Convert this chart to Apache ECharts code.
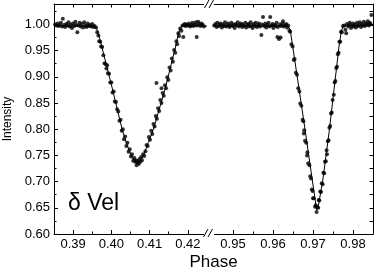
<!DOCTYPE html>
<html><head><meta charset="utf-8">
<script src="https://cdn.jsdelivr.net/npm/echarts@6/dist/echarts.min.js"></script>
<style>html,body{margin:0;padding:0;background:#fff}#c{width:379px;height:273px}</style>
</head><body><div id="c"></div><script>
// ---- data ----
const leftMajorTicks = [0.39, 0.40, 0.41, 0.42];
const leftMinorTicks = [0.395, 0.405, 0.415];
const rightMajorTicks = [0.95, 0.96, 0.97, 0.98];
const rightMinorTicks = [0.955, 0.965, 0.975];
const yMajorTicks = [0.60, 0.65, 0.70, 0.75, 0.80, 0.85, 0.90, 0.95, 1.00];
const yMinorTicks = [0.625, 0.675, 0.725, 0.775, 0.825, 0.875, 0.925, 0.975, 1.025];

const leftModel = [
  [0.3850,0.997],[0.3955,0.997],[0.3962,0.991],[0.3970,0.972],[0.3980,0.943],[0.4000,0.885],
  [0.4028,0.800],[0.4040,0.772],[0.4050,0.753],[0.4060,0.740],[0.4068,0.736],[0.4076,0.740],
  [0.4086,0.754],[0.4097,0.775],[0.4110,0.800],[0.4141,0.878],[0.4167,0.955],[0.4175,0.982],
  [0.4180,0.994],[0.4186,0.997],[0.4250,0.997]
];
const rightModel = [
  [0.9450,0.997],[0.9638,0.997],[0.9643,0.990],[0.9660,0.903],[0.9680,0.800],[0.9695,0.720],
  [0.9703,0.678],[0.9709,0.646],[0.9713,0.652],[0.9724,0.700],[0.9740,0.793],[0.9754,0.885],
  [0.9765,0.958],[0.9771,0.988],[0.9776,0.997],[0.9850,0.998]
];

const leftPoints = [
  [0.3853,1.000],[0.3856,0.998],[0.3859,1.002],[0.3862,0.997],[0.3865,0.999],[0.3868,1.003],
  [0.3871,0.996],[0.3873,1.011],[0.3876,0.999],[0.3879,0.995],[0.3882,1.001],[0.3885,0.998],
  [0.3888,1.004],[0.3891,0.996],[0.3894,1.000],[0.3897,0.993],[0.3900,1.002],[0.3903,0.997],
  [0.3906,1.005],[0.3909,0.999],[0.3911,0.985],[0.3914,0.998],[0.3917,1.003],[0.3920,0.996],
  [0.3923,1.001],[0.3926,0.994],[0.3929,1.004],[0.3932,0.998],[0.3935,0.995],[0.3938,1.002],
  [0.3941,0.997],[0.3944,0.999],[0.3947,0.996],[0.3950,1.001],[0.3953,0.995],[0.3956,0.997],
  [0.3960,0.994],[0.3963,0.985],[0.3966,0.979],[0.3968,0.968],[0.3971,0.967],[0.3973,0.958],
  [0.3976,0.957],[0.3979,0.941],[0.3982,0.926],[0.3985,0.924],[0.3987,0.916],[0.3989,0.922],
  [0.3991,0.907],[0.3994,0.906],[0.3997,0.889],[0.4000,0.889],[0.4003,0.870],[0.4006,0.872],
  [0.4009,0.853],[0.4012,0.852],[0.4015,0.838],[0.4018,0.834],[0.4021,0.816],[0.4024,0.818],
  [0.4027,0.797],[0.4030,0.800],[0.4033,0.781],[0.4036,0.786],[0.4039,0.768],[0.4042,0.774],
  [0.4045,0.757],[0.4048,0.762],[0.4051,0.748],[0.4054,0.752],[0.4057,0.740],[0.4060,0.745],
  [0.4062,0.738],[0.4064,0.741],[0.4066,0.731],[0.4068,0.736],[0.4070,0.740],[0.4072,0.734],
  [0.4074,0.743],[0.4076,0.738],[0.4078,0.747],[0.4080,0.741],[0.4083,0.752],[0.4086,0.749],
  [0.4089,0.758],[0.4092,0.770],[0.4095,0.768],[0.4098,0.785],[0.4101,0.780],[0.4104,0.797],
  [0.4107,0.791],[0.4110,0.810],[0.4113,0.805],[0.4116,0.825],[0.4118,0.888],[0.4119,0.820],
  [0.4122,0.840],[0.4125,0.835],[0.4128,0.856],[0.4131,0.850],[0.4131,0.878],[0.4134,0.869],
  [0.4137,0.864],[0.4140,0.884],[0.4143,0.878],[0.4146,0.899],[0.4149,0.894],[0.4152,0.918],
  [0.4155,0.912],[0.4158,0.935],[0.4161,0.929],[0.4164,0.951],[0.4167,0.946],[0.4170,0.968],
  [0.4172,0.962],[0.4175,0.983],[0.4177,0.978],[0.4180,0.992],[0.4183,0.988],[0.4186,0.998],
  [0.4188,0.976],[0.4190,0.999],[0.4192,1.001],[0.4194,0.997],[0.4197,1.000],[0.4200,0.998],
  [0.4203,1.002],[0.4206,0.996],[0.4209,0.999],[0.4212,1.003],[0.4215,0.997],[0.4218,1.000],
  [0.4221,1.004],[0.4223,0.976],[0.4224,0.998],[0.4227,1.005],[0.4230,1.001],[0.4233,0.997],
  [0.4236,1.002],[0.4239,0.999],[0.4242,0.996]
];

const rightPoints = [
  [0.9453,0.998],[0.9456,1.001],[0.9459,0.995],[0.9461,1.003],[0.9464,0.997],[0.9467,0.999],
  [0.9469,1.002],[0.9472,0.994],[0.9475,1.000],[0.9477,0.997],[0.9480,1.004],[0.9483,0.996],
  [0.9485,0.999],[0.9488,1.002],[0.9491,0.995],[0.9493,0.998],[0.9496,1.003],[0.9499,0.997],
  [0.9501,1.000],[0.9504,0.993],[0.9507,1.001],[0.9509,0.998],[0.9512,1.004],[0.9515,0.996],
  [0.9517,0.999],[0.9520,1.002],[0.9523,0.995],[0.9525,1.000],[0.9528,0.997],[0.9531,1.003],
  [0.9533,0.994],[0.9536,0.999],[0.9539,1.001],[0.9541,0.996],[0.9544,1.004],[0.9547,0.998],
  [0.9549,0.993],[0.9552,1.001],[0.9555,0.997],[0.9557,1.003],[0.9560,0.995],[0.9563,0.999],
  [0.9565,1.002],[0.9568,0.996],[0.9571,0.980],[0.9573,1.000],[0.9575,1.014],[0.9578,0.997],
  [0.9581,1.002],[0.9583,0.994],[0.9586,0.999],[0.9589,1.003],[0.9591,0.996],[0.9593,1.014],
  [0.9596,0.998],[0.9599,1.001],[0.9601,0.993],[0.9604,0.999],[0.9607,0.997],[0.9609,1.003],
  [0.9611,0.976],[0.9612,0.995],[0.9615,0.972],[0.9617,1.000],[0.9619,0.975],[0.9620,0.997],
  [0.9623,1.002],[0.9625,1.006],[0.9627,0.996],[0.9630,0.999],[0.9633,1.001],[0.9635,0.994],
  [0.9638,0.998],
  [0.9641,0.988],[0.9643,0.986],[0.9646,0.962],[0.9649,0.958],[0.9652,0.932],[0.9654,0.934],
  [0.9657,0.908],[0.9660,0.904],[0.9663,0.878],[0.9666,0.872],[0.9668,0.849],[0.9671,0.845],
  [0.9674,0.818],[0.9676,0.815],[0.9677,0.792],[0.9678,0.798],[0.9680,0.778],[0.9683,0.774],
  [0.9685,0.750],[0.9686,0.756],[0.9688,0.735],[0.9691,0.731],[0.9693,0.710],[0.9695,0.706],
  [0.9697,0.685],[0.9699,0.682],[0.9700,0.668],[0.9702,0.668],[0.9705,0.652],[0.9707,0.655],
  [0.9709,0.642],[0.9711,0.651],[0.9713,0.650],[0.9714,0.665],[0.9716,0.664],[0.9718,0.681],
  [0.9720,0.680],[0.9722,0.697],[0.9724,0.695],[0.9726,0.717],[0.9728,0.716],[0.9730,0.738],
  [0.9732,0.739],[0.9734,0.760],[0.9735,0.752],[0.9737,0.777],[0.9739,0.779],[0.9741,0.803],
  [0.9743,0.806],[0.9745,0.830],[0.9747,0.832],[0.9749,0.856],[0.9752,0.866],[0.9754,0.889],
  [0.9756,0.892],[0.9758,0.917],[0.9760,0.919],[0.9762,0.943],[0.9764,0.946],[0.9766,0.967],
  [0.9768,0.967],[0.9770,0.986],[0.9772,0.985],[0.9775,0.997],
  [0.9778,0.998],[0.9781,0.990],[0.9783,0.983],[0.9785,1.001],[0.9788,0.996],[0.9790,0.999],
  [0.9792,1.003],[0.9795,0.993],[0.9797,0.998],[0.9800,1.002],[0.9802,0.996],[0.9805,1.000],
  [0.9807,0.994],[0.9810,1.003],[0.9812,0.997],[0.9815,0.999],[0.9817,1.004],[0.9820,0.995],
  [0.9822,1.001],[0.9825,0.998],[0.9827,1.005],[0.9830,0.997],[0.9832,1.002],[0.9835,1.000],
  [0.9837,1.006],[0.9840,0.998],[0.9842,1.003],[0.9844,1.001],[0.9846,1.018]
];

// ---- chart ----
const FONT = '"Liberation Sans", Arial, Helvetica, sans-serif';
const lineStyle = {color: '#000', width: 1};

function xAxesFor(gridIndex, min, max, major, minor) {
  return [
    {gridIndex, type: 'value', position: 'bottom', min, max,
     axisLine: {show: true, onZero: false, lineStyle},
     axisTick: {show: true, inside: true, length: 4, customValues: major, lineStyle},
     axisLabel: {show: true, customValues: major, margin: 4, color: '#000', fontSize: 13, fontFamily: FONT,
                 formatter: v => v.toFixed(2)},
     splitLine: {show: false}},
    {gridIndex, type: 'value', position: 'bottom', min, max,
     axisLine: {show: false, onZero: false},
     axisTick: {show: true, inside: true, length: 2.5, customValues: minor, lineStyle},
     axisLabel: {show: false}, splitLine: {show: false}},
    {gridIndex, type: 'value', position: 'top', min, max,
     axisLine: {show: true, onZero: false, lineStyle},
     axisTick: {show: true, inside: true, length: 3.5, customValues: major.concat(minor), lineStyle},
     axisLabel: {show: false}, splitLine: {show: false}}
  ];
}

const chart = echarts.init(document.getElementById('c'), null, {renderer: 'canvas'});
chart.setOption({
  animation: false,
  backgroundColor: '#fff',
  grid: [
    {left: 54, top: 4, width: 153, height: 230, outerBoundsMode: 'none', containLabel: false},
    {left: 213, top: 4, width: 160, height: 230, outerBoundsMode: 'none', containLabel: false}
  ],
  xAxis: [].concat(
    xAxesFor(0, 0.385, 0.425, leftMajorTicks, leftMinorTicks),
    xAxesFor(1, 0.945, 0.985, rightMajorTicks, rightMinorTicks)
  ),
  yAxis: [
    {gridIndex: 0, type: 'value', position: 'left', min: 0.60, max: 1.039,
     axisLine: {show: true, onZero: false, lineStyle},
     axisTick: {show: true, inside: true, length: 4, customValues: yMajorTicks, lineStyle},
     axisLabel: {show: true, customValues: yMajorTicks, margin: 4, color: '#000', fontSize: 13, fontFamily: FONT,
                 formatter: v => v.toFixed(2)},
     splitLine: {show: false}},
    {gridIndex: 0, type: 'value', position: 'left', min: 0.60, max: 1.039,
     axisLine: {show: false, onZero: false},
     axisTick: {show: true, inside: true, length: 2.5, customValues: yMinorTicks, lineStyle},
     axisLabel: {show: false}, splitLine: {show: false}},
    {gridIndex: 1, type: 'value', position: 'right', min: 0.60, max: 1.039,
     axisLine: {show: true, onZero: false, lineStyle},
     axisTick: {show: true, inside: true, length: 3.5, customValues: yMajorTicks.concat(yMinorTicks), lineStyle},
     axisLabel: {show: false}, splitLine: {show: false}}
  ],
  series: [
    {type: 'scatter', xAxisIndex: 0, yAxisIndex: 0, data: leftPoints, symbolSize: 4,
     itemStyle: {color: '#000'}, silent: true},
    {type: 'line', xAxisIndex: 0, yAxisIndex: 0, data: leftModel, showSymbol: false, symbol: 'none',
     lineStyle: {color: '#000', width: 1}, silent: true},
    {type: 'scatter', xAxisIndex: 3, yAxisIndex: 2, data: rightPoints, symbolSize: 4,
     itemStyle: {color: '#000'}, silent: true},
    {type: 'line', xAxisIndex: 3, yAxisIndex: 2, data: rightModel, showSymbol: false, symbol: 'none',
     lineStyle: {color: '#000', width: 1}, silent: true}
  ],
  graphic: [
    {type: 'rect', shape: {x: 204, y: 1, width: 10, height: 7}, style: {fill: '#fff'}, z: 100},
    {type: 'rect', shape: {x: 204, y: 230, width: 10, height: 8}, style: {fill: '#fff'}, z: 100},
    {type: 'line', shape: {x1: 203.5, y1: 237, x2: 208, y2: 229}, style: {stroke: '#000', lineWidth: 1}, z: 101},
    {type: 'line', shape: {x1: 208, y1: 237, x2: 212.5, y2: 229}, style: {stroke: '#000', lineWidth: 1}, z: 101},
    {type: 'line', shape: {x1: 204.5, y1: 8, x2: 209, y2: 0}, style: {stroke: '#000', lineWidth: 1}, z: 101},
    {type: 'line', shape: {x1: 209, y1: 8, x2: 213.5, y2: 0}, style: {stroke: '#000', lineWidth: 1}, z: 101},
    {type: 'text', x: 8, y: 119, rotation: Math.PI / 2,
     style: {text: 'Intensity', fill: '#000', font: '12px ' + FONT, align: 'center', verticalAlign: 'middle'}, z: 101},
    {type: 'text', x: 213.5, y: 262,
     style: {text: 'Phase', fill: '#000', font: '17px ' + FONT, align: 'center', verticalAlign: 'middle'}, z: 101},
    {type: 'text', x: 68, y: 204,
     style: {text: 'δ Vel', fill: '#000', font: '23px ' + FONT, align: 'left', verticalAlign: 'middle'}, z: 101}
  ]
});
</script></body></html>
